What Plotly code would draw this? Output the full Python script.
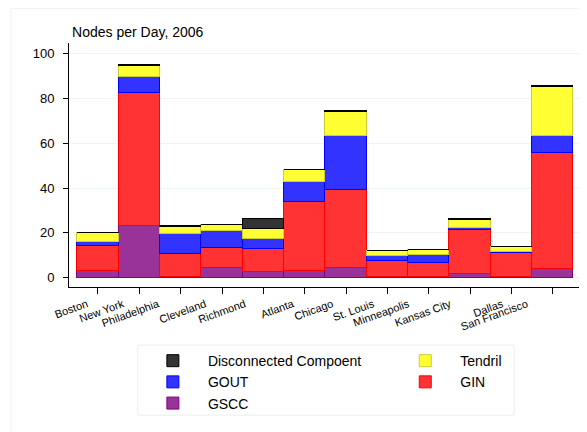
import plotly.graph_objects as go

# ---- data ----
cities = ["Boston", "New York", "Philadelphia", "Cleveland", "Richmond", "Atlanta",
          "Chicago", "St. Louis", "Minneapolis", "Kansas City", "Dallas", "San Francisco"]
gscc = [3.0, 22.9, 0.5, 4.2, 2.4, 3.0, 4.5, 0.5, 0.5, 1.5, 0.5, 3.7]
gin = [11.0, 59.4, 9.9, 9.2, 10.4, 30.7, 34.4, 6.9, 5.9, 19.8, 10.4, 51.7]
gout = [2.0, 7.0, 8.9, 7.3, 4.4, 8.8, 24.1, 2.3, 3.7, 0.8, 0.6, 7.9]
tendril = [3.8, 5.2, 3.4, 2.8, 4.6, 5.4, 10.8, 2.3, 2.4, 3.6, 2.0, 21.5]
disconnected = [0.0, 0.3, 0.2, 0.2, 4.5, 0.2, 0.3, 0.0, 0.0, 0.3, 0.0, 0.6]
y_ticks = [0, 20, 40, 60, 80, 100]

# label anchor positions (styling only) for the staggered category labels
label_pos = [-0.27, 0.60, 1.45, 2.59, 3.55, 4.71, 5.66, 6.65, 7.50, 8.51, 9.77, 10.37]

FONT = "Liberation Sans, Arial, Helvetica, sans-serif"
idx = list(range(len(cities)))

series = [
    ("GSCC", gscc, "#993399", "#800080", "legend", 3),
    ("GIN", gin, "#FF3333", "#FF0000", "legend2", 2),
    ("GOUT", gout, "#3333FF", "#0000FF", "legend", 2),
    ("Tendril", tendril, "#FFFF33", "#CCCC33", "legend2", 1),
    ("Disconnected Compoent", disconnected, "#333333", "#000000", "legend", 1),
]

fig = go.Figure()
for name, vals, col, edge, leg, rank in series:
    fig.add_trace(go.Bar(
        x=idx, y=vals, name=name, customdata=cities,
        marker=dict(color=col, line=dict(color=edge, width=1)),
        legend=leg, legendrank=rank,
        hovertemplate="%{customdata}<br>" + name + ": %{y}<extra></extra>",
    ))

# invisible helper trace to carry the staggered category labels on xaxis2
fig.add_trace(go.Scatter(x=label_pos, y=[None] * len(label_pos), xaxis="x2",
                         showlegend=False, hoverinfo="skip"))

# the page body adds an 8px margin, so the figure is 8px smaller each way
W, H = 579, 424
XR = [-0.70, 11.73]
fig.update_layout(
    width=W, height=H,
    margin=dict(l=61, r=4, t=35, b=145, autoexpand=False),
    paper_bgcolor="white", plot_bgcolor="white",
    barmode="stack", bargap=0,
    font=dict(family=FONT, color="black", size=13),
    title=dict(text="Nodes per Day, 2006", font=dict(size=14, color="black", family=FONT),
               xref="paper", x=0.006, xanchor="left",
               yref="container", y=1 - 23.7 / H, yanchor="middle"),
    xaxis=dict(range=XR, tickmode="array", tickvals=idx, showticklabels=False,
               ticks="outside", ticklen=6, tickcolor="black", tickwidth=1,
               showline=True, linecolor="black", linewidth=1,
               showgrid=False, zeroline=False, fixedrange=True),
    xaxis2=dict(range=XR, overlaying="x", side="bottom", anchor="y",
                tickmode="array", tickvals=label_pos, ticktext=cities,
                tickangle=-20, ticks="", ticklabelstandoff=8,
                tickfont=dict(size=11, family=FONT, color="black"),
                showline=False, showgrid=False, zeroline=False, fixedrange=True),
    yaxis=dict(range=[-4.1, 104.6], tickmode="array", tickvals=y_ticks,
               ticks="outside", ticklen=5, tickcolor="black", ticklabelstandoff=6,
               tickfont=dict(size=13, color="black"),
               showline=True, linecolor="black", linewidth=1,
               showgrid=True, gridcolor="#eef3f3", gridwidth=1,
               zeroline=False, fixedrange=True),
    legend=dict(x=0.134, xanchor="left", y=-0.238, yanchor="top",
                orientation="v", itemwidth=60, bgcolor="rgba(0,0,0,0)",
                font=dict(size=14, family=FONT, color="black"),
                traceorder="normal", tracegroupgap=0),
    legend2=dict(x=0.625, xanchor="left", y=-0.238, yanchor="top",
                 orientation="v", itemwidth=60, bgcolor="rgba(0,0,0,0)",
                 font=dict(size=14, family=FONT, color="black"),
                 traceorder="normal", tracegroupgap=0),
    shapes=[
        # outer graph frame
        dict(type="rect", xref="paper", yref="paper", x0=-0.113, x1=1.2, y0=-0.8, y1=1.141,
             line=dict(color="#eef2f3", width=1), fillcolor="rgba(0,0,0,0)", layer="below"),
        # legend box
        dict(type="rect", xref="paper", yref="paper", x0=0.134, x1=0.866, y0=-0.525, y1=-0.238,
             line=dict(color="#e8eef0", width=1), fillcolor="rgba(0,0,0,0)", layer="below"),
    ],
)

fig.write_html("out.html")
